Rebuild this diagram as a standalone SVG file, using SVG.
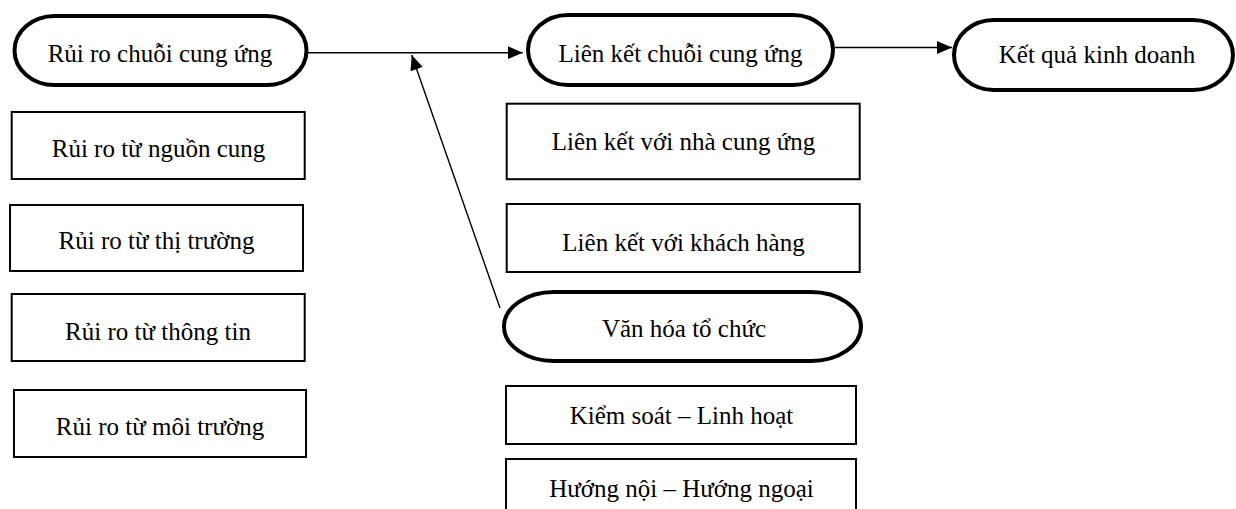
<svg xmlns="http://www.w3.org/2000/svg" width="1236" height="509" viewBox="0 0 1236 509">
<style>
.t{font-family:"Liberation Serif","Times New Roman",serif;font-size:25px;fill:#000;text-anchor:middle}
.oval{fill:#fff;stroke:#000;stroke-width:4}
.box{fill:#fff;stroke:#000;stroke-width:2}
.con{stroke:#000;stroke-width:1.4;fill:none}
</style>
<defs>
<marker id="ah" markerUnits="userSpaceOnUse" markerWidth="16" markerHeight="14" refX="15" refY="6.5" orient="auto">
<path d="M0,0 L15,6.5 L0,13 Z" fill="#000"/>
</marker>
</defs>
<rect width="1236" height="509" fill="#fff"/>
<g id="connectors">
<line class="con" x1="308" y1="52.7" x2="522.7" y2="52.7" marker-end="url(#ah)"/>
<line class="con" x1="835" y1="47.5" x2="952" y2="47.5" marker-end="url(#ah)"/>
<line class="con" x1="500" y1="308" x2="411.7" y2="55" marker-end="url(#ah)"/>
</g>
<g id="n-rui-ro-chuoi">
<rect class="oval" x="14.5" y="16" width="292" height="69" rx="40" ry="34.5"/>
<text class="t" x="160" y="62">Rủi ro chuỗi cung ứng</text>
</g>
<g id="n-lien-ket-chuoi">
<rect class="oval" x="528" y="15" width="305" height="70" rx="40" ry="35"/>
<text class="t" x="680.5" y="62">Liên kết chuỗi cung ứng</text>
</g>
<g id="n-ket-qua">
<rect class="oval" x="954" y="20" width="279" height="70" rx="40" ry="35"/>
<text class="t" x="1097" y="63">Kết quả kinh doanh</text>
</g>
<g id="n-nguon-cung">
<rect class="box" x="11.7" y="112" width="293" height="67"/>
<text class="t" x="158.5" y="157">Rủi ro từ nguồn cung</text>
</g>
<g id="n-thi-truong">
<rect class="box" x="10" y="205" width="293" height="66"/>
<text class="t" x="156.5" y="249">Rủi ro từ thị trường</text>
</g>
<g id="n-thong-tin">
<rect class="box" x="11.7" y="294" width="293" height="67"/>
<text class="t" x="158" y="340">Rủi ro từ thông tin</text>
</g>
<g id="n-moi-truong">
<rect class="box" x="14" y="390" width="292" height="67"/>
<text class="t" x="160" y="435">Rủi ro từ môi trường</text>
</g>
<g id="n-nha-cung-ung">
<rect class="box" x="506.7" y="103.7" width="353" height="75.5"/>
<text class="t" x="683.5" y="150">Liên kết với nhà cung ứng</text>
</g>
<g id="n-khach-hang">
<rect class="box" x="506.7" y="204" width="353" height="68"/>
<text class="t" x="683.5" y="251">Liên kết với khách hàng</text>
</g>
<g id="n-van-hoa">
<rect class="oval" x="504" y="292" width="357" height="69" rx="50" ry="34.5"/>
<text class="t" x="684" y="337">Văn hóa tổ chức</text>
</g>
<g id="n-kiem-soat">
<rect class="box" x="506" y="386" width="350" height="58"/>
<text class="t" x="681.5" y="424">Kiểm soát – Linh hoạt</text>
</g>
<g id="n-huong-noi">
<rect class="box" x="506" y="459" width="350" height="60"/>
<text class="t" x="681.5" y="497">Hướng nội – Hướng ngoại</text>
</g>
</svg>
